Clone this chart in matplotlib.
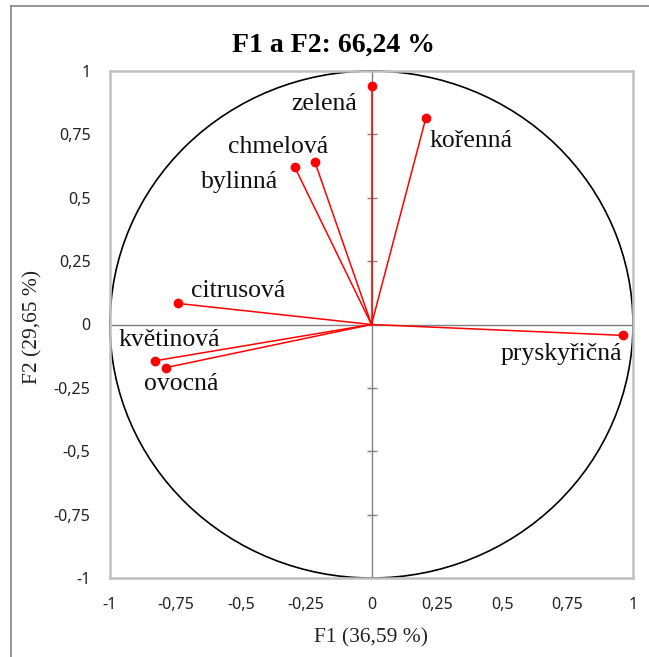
import matplotlib
matplotlib.use('Agg')
import matplotlib.pyplot as plt
from matplotlib.patches import Ellipse
from matplotlib.lines import Line2D

# ---- data ----
variables = ['zelená', 'kořenná', 'chmelová', 'bylinná', 'citrusová', 'květinová', 'ovocná', 'pryskyřičná']
f1 = [0.0, 0.208, -0.216, -0.293, -0.739, -0.827, -0.786, 0.963]
f2 = [0.94, 0.815, 0.64, 0.62, 0.083, -0.143, -0.17, -0.043]
label_x = [-0.055, 0.22, -0.356, -0.503, -0.511, -0.772, -0.726, 0.96]
label_y = [0.848, 0.699, 0.678, 0.537, 0.110, -0.084, -0.258, -0.140]
label_ha = ['right', 'left', 'center', 'center', 'center', 'center', 'center', 'right']
ticks = [-1, -0.75, -0.5, -0.25, 0, 0.25, 0.5, 0.75, 1]
tick_labels = ['-1', '-0,75', '-0,5', '-0,25', '0', '0,25', '0,5', '0,75', '1']
inner_ticks = [-0.75, -0.5, -0.25, 0.25, 0.5, 0.75]
title = 'F1 a F2: 66,24 %'
xlabel = 'F1 (36,59 %)'
ylabel = 'F2 (29,65 %)'

W, H = 649, 657
SERIF = 'Liberation Serif'
plt.rcParams['font.family'] = ['Noto Sans', 'DejaVu Sans']

fig = plt.figure(figsize=(W / 100, H / 100), dpi=100)
ax = fig.add_axes([110 / W, 79 / H, 523 / W, 507 / H])
ax.set_xlim(-1, 1)
ax.set_ylim(-1, 1)

for s in ax.spines.values():
    s.set_color('#c0c0c0')
    s.set_linewidth(1.8)

ax.set_xticks(ticks, tick_labels)
ax.set_yticks(ticks, tick_labels)
ax.tick_params(axis='x', length=0, pad=14, labelsize=11.5, labelcolor='#222222')
ax.tick_params(axis='y', length=0, pad=14, labelsize=11.5, labelcolor='#222222')

# zero axes
ax.axhline(0, color='#808080', lw=1.0, zorder=1)
ax.axvline(0, color='#808080', lw=1.0, zorder=1)
ax.plot([0] * len(inner_ticks), inner_ticks, linestyle='none', marker='_',
        markersize=7.5, markeredgewidth=1.0, color='#808080', zorder=1)

# circle
ax.add_patch(Ellipse((0, 0), 2, 2, fill=False, edgecolor='black', lw=1.2, zorder=2, clip_on=False))

# vectors
for x, y in zip(f1, f2):
    ax.plot([0, x], [0, y], color='#ff0000', lw=1.1, zorder=3)
ax.plot(f1, f2, 'o', color='#ff0000', markersize=6, zorder=4)

for name, x, y, ha in zip(variables, label_x, label_y, label_ha):
    ax.text(x, y, name, ha=ha, va='baseline', fontsize=18.5, family=SERIF, color='#111111', zorder=5)

# titles / axis labels
fig.text(334 / W, 1 - 51.7 / H, title, ha='center', va='baseline', fontsize=20,
         fontweight='bold', family=SERIF)
fig.text(371.5 / W, 1 - 638 / H, xlabel, ha='center', va='center', fontsize=15.5, family=SERIF, color='#222222')
fig.text(33 / W, 1 - 327 / H, ylabel, ha='center', va='center', rotation=90, fontsize=15.5,
         family=SERIF, color='#222222')

# outer chart border (left and top visible)
fig.add_artist(Line2D([10.5 / W, 10.5 / W], [0, 1 - 6 / H], color='#8c8c8c', lw=1.3))
fig.add_artist(Line2D([10.5 / W, 1], [1 - 6 / H, 1 - 6 / H], color='#8c8c8c', lw=1.3))

fig.savefig('out.png', dpi=100)
